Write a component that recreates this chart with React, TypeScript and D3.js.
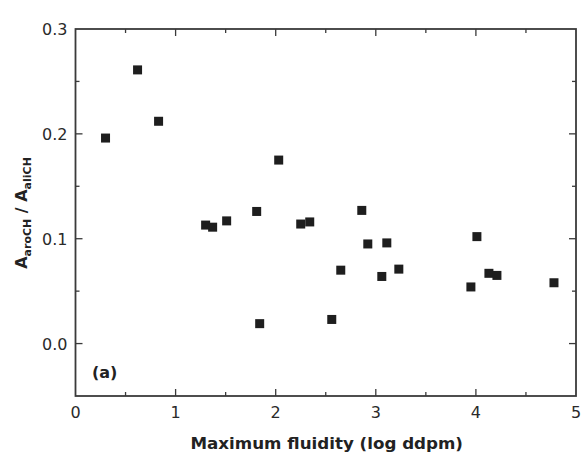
import React from "react";
import * as d3 from "d3";

const fluidity = [0.30, 0.62, 0.83, 1.30, 1.37, 1.51, 1.81, 2.03, 1.84, 2.25, 2.34, 2.56, 2.65, 2.86, 2.92, 3.06, 3.11, 3.23, 3.95, 4.01, 4.13, 4.21, 4.78];
const ratio = [0.196, 0.261, 0.212, 0.113, 0.111, 0.117, 0.126, 0.175, 0.019, 0.114, 0.116, 0.023, 0.070, 0.127, 0.095, 0.064, 0.096, 0.071, 0.054, 0.102, 0.067, 0.065, 0.058];
const xTicks = [0, 1, 2, 3, 4, 5];
const xMinor = [0.5, 1.5, 2.5, 3.5, 4.5];
const yTicks = [0.0, 0.1, 0.2, 0.3];
const yMinor = [-0.05, 0.05, 0.15, 0.25];

export default function App() {
  const W = 582, H = 454;
  const left = 75.5, right = 576, top = 29, bottom = 396;
  const x = d3.scaleLinear().domain([0, 5]).range([left, right]);
  const y = d3.scaleLinear().domain([-0.05, 0.3]).range([bottom, top]);
  const axisColor = "#3a3a3a";
  const font = "DejaVu Sans, Verdana, sans-serif";
  const majL = 7, minL = 4;
  const pts = fluidity.map((v, i) => [v, ratio[i]]);
  return (
    <svg width={W} height={H} style={{ position: "absolute", left: 0, top: 0, background: "#fff" }}>
      <rect x={0} y={0} width={W} height={H} fill="#fff" />
      <g stroke={axisColor} strokeWidth={1.3}>
        {xTicks.slice(1, -1).map((t) => (
          <g key={"xt" + t}>
            <line x1={x(t)} x2={x(t)} y1={bottom} y2={bottom - majL} />
            <line x1={x(t)} x2={x(t)} y1={top} y2={top + majL} />
          </g>
        ))}
        {xMinor.map((t) => (
          <g key={"xm" + t}>
            <line x1={x(t)} x2={x(t)} y1={bottom} y2={bottom - minL} />
            <line x1={x(t)} x2={x(t)} y1={top} y2={top + minL} />
          </g>
        ))}
        {yTicks.filter((t) => t !== 0.3).map((t) => (
          <g key={"yt" + t}>
            <line x1={left} x2={left + majL} y1={y(t)} y2={y(t)} />
            <line x1={right} x2={right - majL} y1={y(t)} y2={y(t)} />
          </g>
        ))}
        {yMinor.filter((t) => t > -0.05).map((t) => (
          <g key={"ym" + t}>
            <line x1={left} x2={left + minL} y1={y(t)} y2={y(t)} />
            <line x1={right} x2={right - minL} y1={y(t)} y2={y(t)} />
          </g>
        ))}
      </g>
      <rect x={left} y={top} width={right - left} height={bottom - top} fill="none" stroke={axisColor} strokeWidth={1.8} />
      <g fontFamily={font} fontSize={16} fill="#2a2a2a">
        {xTicks.map((t) => (
          <text key={"xl" + t} x={x(t)} y={bottom + 22} textAnchor="middle">{t}</text>
        ))}
        {yTicks.map((t) => (
          <text key={"yl" + t} x={left - 8} y={y(t) + 6} textAnchor="end">{d3.format(".1f")(t)}</text>
        ))}
      </g>
      <g fill="#1e1e1e">
        {pts.map(([a, b], i) => (
          <rect key={i} x={x(a) - 4.5} y={y(b) - 4.5} width={9} height={9} />
        ))}
      </g>
      <text x={92} y={378} fontFamily={font} fontSize={16} fontWeight="bold" fill="#222">(a)</text>
      <text x={(left + right) / 2 + 1} y={449} fontFamily={font} fontSize={16.7} fontWeight="bold" fill="#222" textAnchor="middle">Maximum fluidity (log ddpm)</text>
      <text transform={`translate(27,${213}) rotate(-90)`} fontFamily={font} fontSize={16} fontWeight="bold" fill="#222" textAnchor="middle">
        <tspan>A</tspan>
        <tspan fontSize={11} dy={4}>aroCH</tspan>
        <tspan dy={-4}> / A</tspan>
        <tspan fontSize={11} dy={4}>aliCH</tspan>
      </text>
    </svg>
  );
}
